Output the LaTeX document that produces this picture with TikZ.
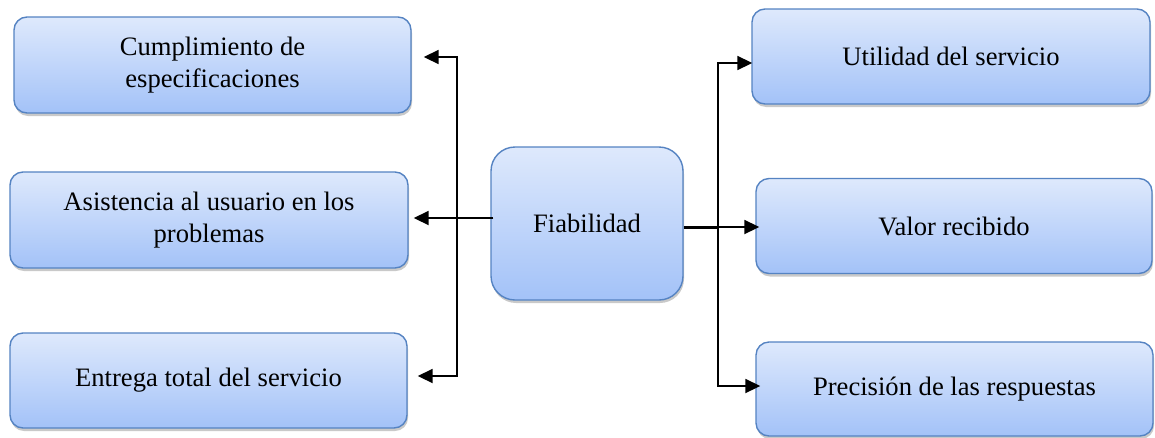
\documentclass[tikz,border=0pt]{standalone}
\usepackage{fontspec}
\setmainfont{Liberation Serif}
\newfontfamily\boxfont{Liberation Serif}
\usetikzlibrary{arrows.meta,shadows,calc}
\definecolor{boxtop}{HTML}{DEE9FC}
\definecolor{boxbot}{HTML}{A3C2F8}
\definecolor{boxline}{HTML}{5583C2}
\begin{document}
\begin{tikzpicture}[x=1pt,y=-1pt,
  sidebox/.style={draw=boxline, line width=1.4pt, rounded corners=13pt,
    top color=boxtop, bottom color=boxbot, inner sep=0pt, align=center,
    font=\boxfont\fontsize{26.6}{32.5}\selectfont,
    drop shadow={shadow xshift=1pt, shadow yshift=-3pt, opacity=0.3, fill=black!70}},
  centerbox/.style={sidebox, rounded corners=24pt},
  conn/.style={line width=1.8pt, black},
  arr/.style={conn, -{Triangle[length=15pt,width=14pt]}}]
\useasboundingbox (0,0) rectangle (1155,437);
% boxes
\node[sidebox, minimum width=397pt, minimum height=96pt] (L1) at (212.5,65) {Cumplimiento de\\especificaciones};
\node[sidebox, minimum width=398pt, minimum height=96pt] (L2) at (209,220) {Asistencia al usuario en los\\problemas};
\node[sidebox, minimum width=397pt, minimum height=95pt] (L3) at (208.5,380.5) {Entrega total del servicio};
\node[centerbox, minimum width=192pt, minimum height=153pt] (C) at (587,223.5) {Fiabilidad};
\node[sidebox, minimum width=398pt, minimum height=95pt] (R1) at (951,56.5) {Utilidad del servicio};
\node[sidebox, minimum width=396pt, minimum height=95pt] (R2) at (954,226) {Valor recibido};
\node[sidebox, minimum width=397pt, minimum height=94pt] (R3) at (954.5,389) {Precisión de las respuestas};
% left connectors
\coordinate (lt) at (457,57);
\coordinate (lb) at (457,376);
\coordinate (lm) at ([xshift=3pt,yshift=5.5pt]C.west);
\draw[conn] (lt) -- (lb);
\draw[arr] ([xshift=0.9pt]lt) -- ([xshift=12pt]L1.east |- lt);
\draw[arr] ([xshift=0.9pt]lb) -- ([xshift=10pt]L3.east |- lb);
\draw[arr] (lm) -- ([xshift=5pt]L2.east |- lm);
% right connectors
\coordinate (rm) at (718,227);
\coordinate (rt) at (718,63);
\coordinate (rb) at (718,386);
\draw[line width=3pt] (C.east |- rm) -- (rm);
\draw[conn] (rt) -- (rb);
\draw[arr] (rm) -- ([xshift=4pt]R2.west |- rm);
\draw[arr] ([xshift=-0.9pt]rt) -- ([xshift=1pt]R1.west |- rt);
\draw[arr] ([xshift=-0.9pt]rb) -- ([xshift=5pt]R3.west |- rb);
\end{tikzpicture}
\end{document}
